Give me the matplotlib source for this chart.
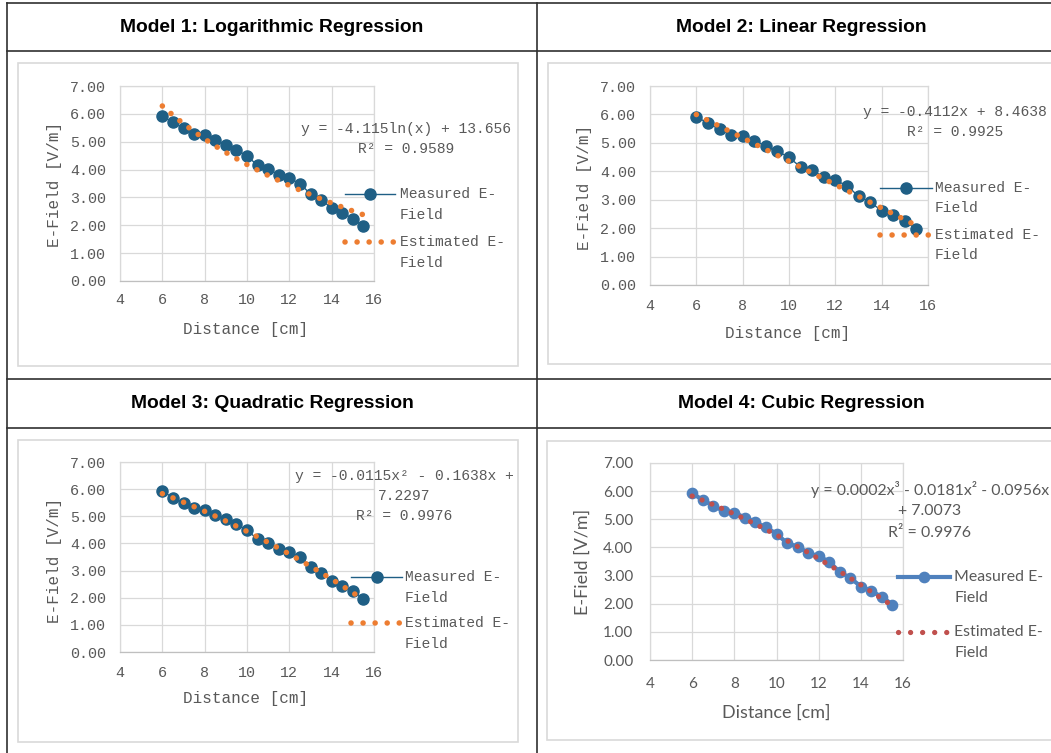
import matplotlib.pyplot as plt
from matplotlib.lines import Line2D
from matplotlib.patches import Rectangle
import numpy as np

# figure size in pixels (dpi 100)
W, H = 1051, 753

distance = [6.0, 6.5, 7.0, 7.5, 8.0, 8.5, 9.0, 9.5, 10.0, 10.5,
            11.0, 11.5, 12.0, 12.5, 13.0, 13.5, 14.0, 14.5, 15.0, 15.5]
e_field = [5.92, 5.69, 5.48, 5.29, 5.24, 5.06, 4.90, 4.71, 4.49, 4.15,
           4.03, 3.81, 3.68, 3.50, 3.12, 2.92, 2.61, 2.45, 2.24, 1.97]

# trendline coefficients as printed on each chart
log_coef = [-4.115, 13.656]
lin_coef = [-0.4112, 8.4638]
quad_coef = [-0.0115, -0.1638, 7.2297]
cubic_coef = [0.0002, -0.0181, -0.0956, 7.0073]

titles = ["Model 1: Logarithmic Regression", "Model 2: Linear Regression",
          "Model 3: Quadratic Regression", "Model 4: Cubic Regression"]
equations = [["y = -4.115ln(x) + 13.656", "R² = 0.9589"],
             ["y = -0.4112x + 8.4638", "R² = 0.9925"],
             ["y = -0.0115x² - 0.1638x +", "7.2297", "R² = 0.9976"],
             ["y = 0.0002x³ - 0.0181x² - 0.0956x", "+ 7.0073", "R² = 0.9976"]]
x_ticks = [4, 6, 8, 10, 12, 14, 16]
y_ticks = [0, 1, 2, 3, 4, 5, 6, 7]


def fx(x):
    return x / W


def fy(y):
    return 1 - y / H


# estimated curves along the fitted trendline
x_fit = np.linspace(min(distance), max(distance), 300)
fits = [log_coef[0] * np.log(x_fit) + log_coef[1],
        np.polyval(lin_coef, x_fit),
        np.polyval(quad_coef, x_fit),
        np.polyval(cubic_coef, x_fit)]

# two looks: the SimSun-ish Excel charts and the Calibri one
old_style = dict(font='Liberation Mono', tick_size=10.8, label_size=11.5, text_size=10.5,
                 meas_color='#1F5F85', meas_lw=1.0, meas_ms=8.0,
                 est_color='#ED7D31', est_lw=4.0, est_gap=2.05)
new_style = dict(font='Lato', tick_size=11, label_size=13, text_size=11.4,
                 meas_color='#4F81BD', meas_lw=3.0, meas_ms=7.4,
                 est_color='#C0504D', est_lw=3.8, est_gap=2.0)

# per chart layout in pixels
layouts = [
    dict(frame=(18, 63, 518, 366), plot=(120, 86, 374, 281), title=(272, 27),
         xlab=(246, 329), ylab=(55, 184), xpad=9, ypad=10,
         eq=(406, 129, 20), leg=(345, 395, 194, 242, 400, 21), style=old_style),
    dict(frame=(548, 63, 1060, 364), plot=(650, 86, 928, 285), title=(801, 27),
         xlab=(788, 333), ylab=(584, 187), xpad=10, ypad=10,
         eq=(955, 112, 20), leg=(880, 932, 188, 235, 935, 20), style=old_style),
    dict(frame=(18, 440, 518, 742), plot=(120, 462, 374, 652), title=(272, 404),
         xlab=(246, 699), ylab=(55, 560), xpad=10, ypad=10,
         eq=(404, 476, 20), leg=(351, 402, 577, 623, 405, 21), style=old_style),
    dict(frame=(547, 441, 1060, 740), plot=(650, 463, 903, 660), title=(801, 404),
         xlab=(776, 713), ylab=(583, 562), xpad=12, ypad=12,
         eq=(930, 489, 22), leg=(898, 950, 577, 632, 954, 21), style=new_style),
]

fig = plt.figure(figsize=(W / 100, H / 100), dpi=100)
fig.patch.set_facecolor('white')

# table borders
line_kw = dict(color='#303030', lw=1.2, transform=fig.transFigure)
for y in [3, 51, 379, 428]:
    fig.add_artist(Line2D([fx(7), 1], [fy(y), fy(y)], **line_kw))
for x in [7, 537]:
    fig.add_artist(Line2D([fx(x), fx(x)], [fy(3), 0], **line_kw))

gray = '#595959'
for i, lay in enumerate(layouts):
    st = lay['style']
    fam = [st['font'], 'DejaVu Sans']

    # header text
    fig.text(fx(lay['title'][0]), fy(lay['title'][1]), titles[i], ha='center', va='center',
             fontsize=13.9, fontweight='bold', family='Liberation Sans', color='black')

    # chart frame
    l, t, r, b = lay['frame']
    fig.add_artist(Rectangle((fx(l), fy(b)), (r - l) / W, (b - t) / H, transform=fig.transFigure,
                             facecolor='white', edgecolor='#D9D9D9', lw=1.2, zorder=0))

    l, t, r, b = lay['plot']
    ax = fig.add_axes([fx(l), fy(b), (r - l) / W, (b - t) / H])
    ax.set_facecolor('none')
    ax.set_xlim(4, 16)
    ax.set_ylim(0, 7)
    ax.set_xticks(x_ticks)
    ax.set_yticks(y_ticks)
    ax.set_xticklabels([str(v) for v in x_ticks], family=fam, fontsize=st['tick_size'], color=gray)
    ax.set_yticklabels([f"{v:.2f}" for v in y_ticks], family=fam, fontsize=st['tick_size'], color=gray)
    ax.tick_params(axis='x', length=0, pad=lay['xpad'])
    ax.tick_params(axis='y', length=0, pad=lay['ypad'])
    ax.grid(True, color='#D9D9D9', lw=0.9)
    ax.set_axisbelow(True)
    for sp in ax.spines.values():
        sp.set_color('#D9D9D9')
        sp.set_linewidth(0.9)
    ax.spines['bottom'].set_color('#BFBFBF')

    # measured points
    ax.plot(distance, e_field, color=st['meas_color'], lw=st['meas_lw'], marker='o',
            ms=st['meas_ms'], mec=st['meas_color'], mfc=st['meas_color'], zorder=3)
    # estimated trendline (round dots)
    ax.plot(x_fit, fits[i], color=st['est_color'], lw=st['est_lw'],
            linestyle=(0, (0.01, st['est_gap'])), dash_capstyle='round', zorder=4)

    # axis labels
    fig.text(fx(lay['xlab'][0]), fy(lay['xlab'][1]), "Distance [cm]", ha='center', va='center',
             family=fam, fontsize=st['label_size'], color=gray)
    fig.text(fx(lay['ylab'][0]), fy(lay['ylab'][1]), "E-Field [V/m]", ha='center', va='center',
             rotation=90, family=fam, fontsize=st['label_size'], color=gray)

    # trendline equation
    ex, ey, egap = lay['eq']
    for k, line in enumerate(equations[i]):
        fig.text(fx(ex), fy(ey + k * egap), line, ha='center', va='center',
                 family=fam, fontsize=st['text_size'], color=gray)

    # legend
    x0, x1, ym, ye, tx, tgap = lay['leg']
    fig.add_artist(Line2D([fx(x0), fx(x1)], [fy(ym), fy(ym)], transform=fig.transFigure,
                          color=st['meas_color'], lw=st['meas_lw']))
    fig.add_artist(Line2D([fx((x0 + x1) / 2)], [fy(ym)], transform=fig.transFigure,
                          marker='o', ms=st['meas_ms'], color=st['meas_color']))
    fig.add_artist(Line2D([fx(x0), fx(x1)], [fy(ye), fy(ye)], transform=fig.transFigure,
                          color=st['est_color'], lw=st['est_lw'],
                          linestyle=(0, (0.01, 12 / (st['est_lw'] * 100 / 72))),
                          dash_capstyle='round'))
    for k, line in enumerate(["Measured E-", "Field"]):
        fig.text(fx(tx), fy(ym + k * tgap), line, ha='left', va='center',
                 family=fam, fontsize=st['text_size'], color=gray)
    for k, line in enumerate(["Estimated E-", "Field"]):
        fig.text(fx(tx), fy(ye + k * tgap), line, ha='left', va='center',
                 family=fam, fontsize=st['text_size'], color=gray)

fig.savefig('out.png', dpi=100)
